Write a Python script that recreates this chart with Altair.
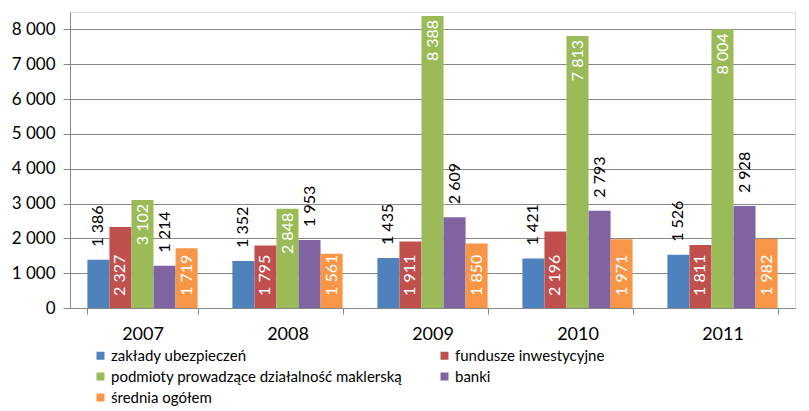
import altair as alt
import pandas as pd

years = ["2007", "2008", "2009", "2010", "2011"]
series = [
    "zakłady ubezpieczeń",
    "fundusze inwestycyjne",
    "podmioty prowadzące działalność maklerską",
    "banki",
    "średnia ogółem",
]
colors = ["#4F81BD", "#C0504D", "#9BBB59", "#8064A2", "#F79646"]
ubezpieczenia = [1386, 1352, 1435, 1421, 1526]
fundusze = [2327, 1795, 1911, 2196, 1811]
maklerskie = [3102, 2848, 8388, 7813, 8004]
banki = [1214, 1953, 2609, 2793, 2928]
srednia = [1719, 1561, 1850, 1971, 1982]
y_ticks = [0, 1000, 2000, 3000, 4000, 5000, 6000, 7000, 8000]

values_by_series = [ubezpieczenia, fundusze, maklerskie, banki, srednia]
rows = []
for s, vals in zip(series, values_by_series):
    for y, v in zip(years, vals):
        rows.append({"year": y, "series": s, "value": v,
                     "label": f"{v:,}".replace(",", " ")})
df = pd.DataFrame(rows)

FONT = "Lato"

x_enc = alt.X("year:N", sort=years,
              scale=alt.Scale(paddingInner=0.24, paddingOuter=0.12),
              axis=alt.Axis(title=None, labelAngle=0, tickBand="extent",
                            labelFontSize=18, labelFont=FONT, labelColor="#000",
                            labelPadding=11, tickSize=6, tickColor="#888",
                            domainColor="#888", grid=False))
xo_enc = alt.XOffset("series:N", sort=series,
                     scale=alt.Scale(domain=series, paddingInner=0, paddingOuter=0))
y_scale = alt.Scale(domain=[0, 8500], nice=False)
y_axis = alt.Axis(title=None, values=y_ticks, tickCount=9,
                  labelExpr="replace(format(datum.value, ','), ',', ' ')",
                  labelOverlap=False,
                  labelFontSize=17, labelFont=FONT, labelColor="#000",
                  labelPadding=8, tickSize=7, tickColor="#888",
                  domainColor="#888", gridColor="#888", gridWidth=1)

base = alt.Chart(df)

bars = base.mark_bar().encode(
    x=x_enc,
    xOffset=xo_enc,
    y=alt.Y("value:Q", scale=y_scale, axis=y_axis),
    color=alt.Color("series:N", sort=series,
                    scale=alt.Scale(domain=series, range=colors),
                    legend=alt.Legend(title=None, orient="none", columns=2,
                                      direction="horizontal",
                                      legendX=23, legendY=336,
                                      symbolType="square", symbolSize=64,
                                      symbolStrokeWidth=0, labelFont=FONT,
                                      labelFontSize=15, labelColor="#000",
                                      labelOffset=3, rowPadding=5,
                                      columnPadding=34, padding=0,
                                      labelLimit=400)),
)

text_common = dict(angle=270, baseline="middle", font=FONT, fontSize=16)

above = base.transform_filter(
    alt.FieldOneOfPredicate(field="series", oneOf=[series[0], series[3]])
).mark_text(align="left", dx=13, color="#000", **text_common).encode(
    x=x_enc, xOffset=xo_enc,
    y=alt.Y("value:Q", scale=y_scale, axis=y_axis), text="label:N")

top = base.transform_filter(
    alt.FieldEqualPredicate(field="series", equal=series[2])
).mark_text(align="right", dx=-4, color="#fff", **text_common).encode(
    x=x_enc, xOffset=xo_enc,
    y=alt.Y("value:Q", scale=y_scale, axis=y_axis), text="label:N")

bottom = base.transform_filter(
    alt.FieldOneOfPredicate(field="series", oneOf=[series[1], series[4]])
).transform_calculate(zero="0").mark_text(
    align="left", dx=12, color="#fff", **text_common).encode(
    x=x_enc, xOffset=xo_enc,
    y=alt.Y("zero:Q", scale=y_scale, axis=y_axis), text="label:N")

chart = alt.layer(bars, above, top, bottom).properties(
    width=725, height=296,
    autosize=alt.AutoSizeParams(type="none"),
    padding={"left": 62, "top": 4, "right": 6, "bottom": 103},
).configure_view(stroke=None).configure(background="white")

chart.save("out.html", embed_options={"renderer": "svg", "actions": False})
